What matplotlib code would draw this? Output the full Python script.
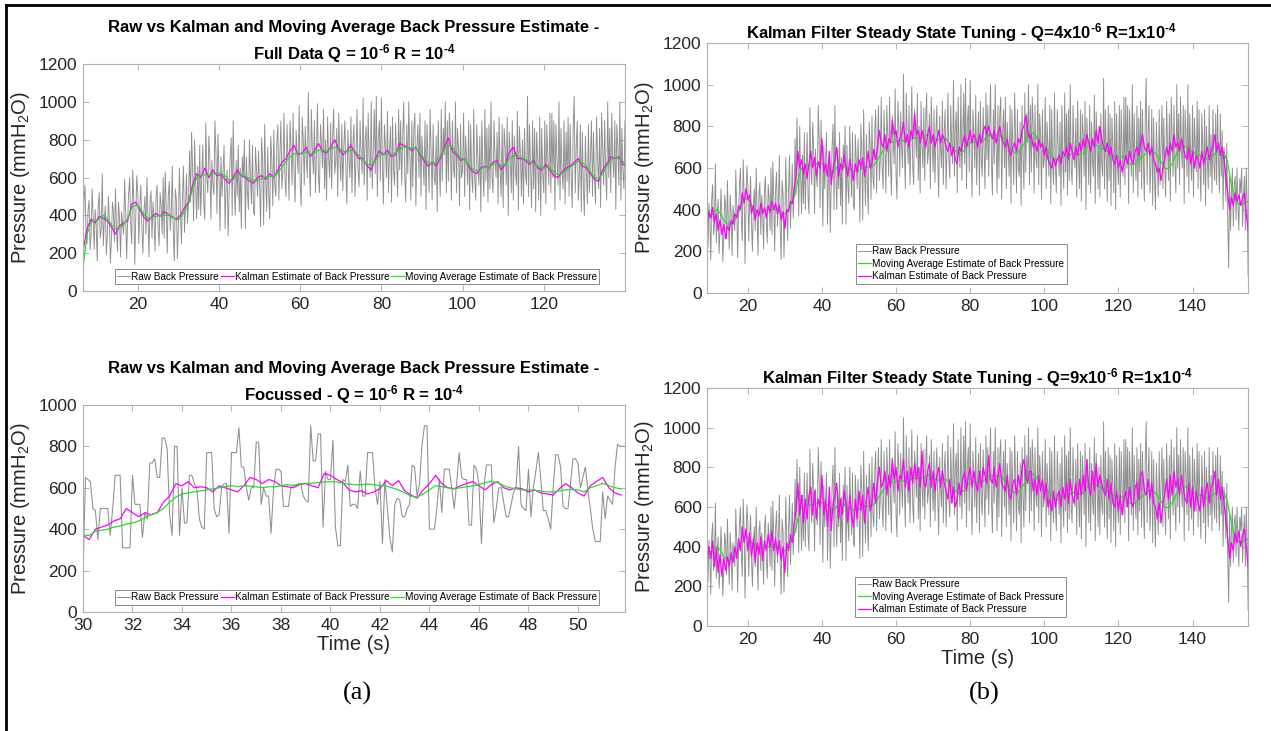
import numpy as np
import matplotlib.pyplot as plt
from matplotlib.lines import Line2D

plt.rcParams['font.family'] = ['Liberation Sans', 'DejaVu Sans']
plt.rcParams['mathtext.fontset'] = 'custom'
plt.rcParams['mathtext.rm'] = 'Liberation Sans'
plt.rcParams['mathtext.it'] = 'Liberation Sans:italic'
plt.rcParams['mathtext.bf'] = 'Liberation Sans:bold'

# ---- full record, raw back pressure, 0.25 s steps from t = 6.5 s (one row = 10 s)
raw_bp = [
    200, 480, 560, 300, 250, 430, 480, 220, 300, 540, 400, 220, 430, 350, 160, 450, 520, 280, 330, 620,
    240, 380, 450, 190, 300, 500, 380, 150, 270, 470, 420, 260, 540, 330, 210, 470, 380, 180, 420, 350,
    300, 590, 420, 170, 380, 520, 600, 360, 250, 640, 480, 140, 400, 610, 520, 250, 450, 560, 330, 200,
    420, 500, 300, 600, 380, 180, 470, 530, 280, 470, 380, 210, 500, 560, 330, 240, 520, 450, 300, 600,
    280, 630, 450, 200, 500, 580, 320, 420, 660, 300, 160, 540, 480, 170, 350, 650, 420, 250, 500, 660,
    310, 450, 620, 360, 480, 740, 470, 840, 640, 370, 800, 560, 380, 660, 430, 770, 400, 600, 770, 460,
    380, 890, 600, 520, 820, 700, 380, 690, 560, 510, 900, 730, 410, 830, 620, 320, 710, 500, 640, 770,
    330, 560, 640, 290, 520, 710, 810, 400, 900, 560, 400, 690, 500, 770, 420, 650, 330, 710, 600, 800,
    330, 710, 520, 430, 800, 600, 460, 770, 420, 400, 760, 640, 500, 740, 560, 340, 810, 690, 350, 880,
    600, 420, 760, 520, 380, 820, 700, 450, 850, 560, 500, 780, 880, 480, 720, 900, 540, 640, 940, 600,
    500, 880, 700, 480, 900, 760, 560, 940, 620, 470, 850, 720, 620, 980, 560, 450, 920, 800, 560, 870,
    700, 600, 1050, 680, 500, 960, 740, 620, 900, 520, 720, 990, 600, 520, 880, 780, 650, 960, 540, 800,
    480, 920, 700, 600, 890, 540, 820, 960, 620, 680, 860, 500, 940, 720, 580, 880, 530, 760, 900, 640,
    460, 850, 700, 600, 920, 520, 780, 880, 500, 700, 960, 640, 550, 900, 720, 620, 1020, 560, 800, 870,
    480, 940, 700, 600, 1000, 540, 760, 960, 620, 1030, 500, 820, 900, 580, 1020, 680, 460, 880, 760, 600,
    950, 520, 740, 870, 470, 920, 640, 560, 890, 700, 500, 960, 640, 900, 560, 800, 1000, 620, 470, 880,
    620, 1000, 720, 480, 900, 550, 860, 940, 450, 760, 880, 600, 940, 500, 820, 700, 560, 900, 430, 880,
    700, 520, 960, 740, 480, 880, 600, 560, 820, 420, 900, 660, 500, 960, 580, 860, 720, 1000, 520, 900,
    580, 940, 800, 480, 900, 650, 600, 1000, 520, 860, 760, 450, 880, 600, 640, 940, 500, 820, 700, 560,
    900, 430, 880, 620, 520, 960, 600, 480, 880, 700, 560, 820, 420, 900, 640, 500, 960, 580, 860, 470,
    880, 540, 1000, 600, 520, 900, 700, 600, 840, 460, 920, 640, 500, 880, 440, 860, 760, 560, 920, 400,
    840, 700, 520, 900, 480, 820, 640, 560, 950, 430, 870, 720, 500, 800, 460, 860, 620, 560, 1030, 500,
    880, 640, 440, 900, 540, 860, 420, 840, 700, 480, 920, 400, 860, 620, 520, 900, 460, 880, 700, 560,
    940, 520, 940, 600, 900, 430, 880, 700, 560, 1000, 480, 860, 640, 540, 900, 460, 840, 580, 920, 500,
    880, 620, 440, 860, 1030, 520, 760, 900, 480, 600, 880, 420, 840, 560, 400, 820, 620, 460, 880, 520,
    720, 900, 500, 840, 600, 460, 920, 700, 540, 860, 440, 940, 760, 560, 900, 620, 480, 1000, 600, 860,
    520, 940, 700, 600, 900, 430, 880, 760, 560, 1000, 480, 860, 640, 540, 900, 460, 840, 700, 580, 920,
    500, 880, 620, 440, 860, 700, 520, 880, 420, 800, 640, 500, 900, 560, 760, 480, 880, 620, 540, 860,
    520, 900, 640, 480, 860, 560, 780, 400, 700, 600, 440, 720, 350, 120, 560, 300, 480, 600, 320, 520,
    560, 350, 600, 420, 300, 550, 480, 600, 320, 460, 560, 300, 600, 420, 80,
]

# moving average and Kalman (Q=1e-6), 1 s steps from t = 6.5 s
mov_avg = [
    120, 300, 365, 370, 380, 400, 385, 350, 330, 335, 350, 385, 440, 455, 440, 405, 385, 390, 395, 400,
    400, 400, 395, 375, 385, 420, 460, 540, 600, 610, 615, 610, 620, 625, 620, 610, 585, 590, 615, 615,
    605, 595, 585, 585, 595, 605, 605, 605, 625, 655, 685, 710, 725, 725, 730, 735, 725, 730, 745, 745,
    740, 750, 760, 755, 740, 735, 745, 740, 715, 695, 670, 665, 690, 715, 725, 725, 725, 730, 750, 760,
    760, 755, 755, 730, 700, 680, 670, 685, 715, 750, 770, 760, 730, 705, 695, 670, 645, 635, 645, 655,
    655, 670, 675, 665, 670, 700, 715, 715, 705, 695, 685, 675, 660, 650, 655, 650, 630, 615, 620, 640,
    655, 670, 685, 680, 660, 630, 600, 595, 620, 660, 690, 705, 700, 685, 670, 665, 655, 645, 645, 660,
    675, 680, 675, 620, 520, 450, 425, 425, 440, 430,
]
kalman_q1 = [
    210, 330, 380, 360, 395, 385, 370, 340, 300, 345, 360, 370, 460, 470, 430, 390, 370, 395, 410, 395,
    420, 405, 390, 380, 400, 440, 470, 560, 620, 600, 650, 600, 640, 610, 615, 590, 570, 600, 640, 610,
    600, 580, 570, 600, 610, 590, 620, 600, 640, 680, 700, 740, 770, 720, 730, 760, 710, 740, 780, 740,
    730, 760, 800, 750, 720, 740, 770, 730, 700, 700, 660, 640, 700, 740, 720, 745, 710, 720, 780, 770,
    760, 740, 760, 720, 690, 660, 680, 660, 700, 760, 810, 740, 720, 690, 700, 660, 630, 620, 650, 660,
    650, 680, 690, 640, 670, 730, 760, 700, 700, 690, 670, 690, 650, 640, 670, 640, 610, 600, 630, 650,
    660, 680, 700, 660, 650, 620, 590, 580, 640, 670, 710, 700, 710, 670, 660, 670, 640, 630, 660, 700,
    690, 700, 660, 600, 500, 440, 420, 440, 450, 420,
]

# Kalman steady state tuning, 0.5 s steps from t = 6.5 s
kalman_q4 = [
    300, 380, 420, 350, 400, 330, 390, 360, 410, 340, 380, 300, 350, 280, 330, 260, 320, 300, 350, 330,
    380, 360, 420, 400, 480, 430, 500, 450, 470, 380, 420, 350, 400, 370, 430, 380, 410, 360, 420, 390,
    440, 400, 430, 380, 420, 350, 390, 310, 400, 390, 440, 430, 500, 560, 680, 600, 640, 570, 620, 550,
    620, 680, 600, 650, 560, 630, 600, 740, 580, 620, 560, 680, 520, 600, 640, 700, 560, 620, 590, 660,
    600, 560, 640, 590, 540, 620, 580, 640, 600, 650, 560, 620, 680, 600, 620, 690, 640, 700, 780, 720,
    700, 760, 680, 740, 720, 830, 760, 780, 700, 740, 760, 820, 720, 760, 700, 780, 740, 860, 760, 780,
    720, 780, 740, 700, 760, 800, 720, 760, 700, 740, 780, 720, 760, 740, 700, 680, 720, 660, 700, 640,
    620, 700, 680, 720, 760, 700, 740, 780, 720, 760, 740, 700, 760, 720, 780, 800, 760, 800, 760, 740,
    780, 720, 760, 800, 740, 720, 700, 740, 680, 660, 700, 720, 680, 740, 720, 780, 800, 850, 780, 740,
    760, 700, 720, 680, 740, 700, 720, 660, 700, 640, 620, 600, 650, 610, 640, 660, 620, 680, 660, 700,
    640, 720, 680, 640, 700, 660, 720, 680, 740, 700, 760, 720, 680, 740, 700, 780, 720, 800, 740, 700,
    680, 720, 660, 700, 640, 620, 660, 600, 640, 580, 620, 660, 620, 680, 640, 620, 680, 700, 660, 720,
    760, 700, 680, 720, 660, 700, 640, 620, 580, 600, 540, 600, 640, 700, 660, 720, 680, 760, 700, 720,
    680, 740, 700, 660, 640, 700, 620, 680, 600, 660, 640, 600, 680, 620, 660, 700, 640, 680, 700, 760,
    680, 720, 660, 700, 640, 560, 480, 400, 460, 420, 480, 440, 470, 420, 460, 480, 380, 300,
]
kalman_q9 = [
    300, 420, 440, 330, 420, 310, 400, 340, 430, 300, 390, 270, 360, 250, 340, 280, 350, 300, 370, 320,
    400, 340, 440, 380, 500, 420, 490, 380, 470, 350, 440, 320, 420, 360, 450, 330, 430, 380, 460, 400,
    480, 380, 440, 360, 430, 330, 400, 270, 420, 380, 460, 420, 520, 580, 720, 560, 660, 520, 640, 540,
    660, 700, 560, 680, 540, 640, 600, 760, 560, 640, 500, 700, 480, 620, 660, 720, 540, 640, 560, 680,
    620, 520, 660, 560, 500, 640, 540, 680, 580, 660, 520, 640, 700, 580, 620, 720, 620, 740, 800, 700,
    720, 780, 660, 760, 700, 840, 740, 800, 680, 760, 740, 840, 700, 780, 680, 800, 720, 820, 740, 800,
    700, 880, 720, 700, 780, 820, 700, 780, 680, 760, 800, 700, 780, 720, 680, 640, 740, 620, 700, 600,
    640, 720, 660, 740, 780, 680, 760, 800, 700, 780, 720, 680, 780, 700, 800, 760, 720, 860, 740, 720,
    800, 700, 760, 820, 720, 700, 680, 760, 660, 640, 720, 740, 660, 760, 700, 800, 840, 760, 720, 780,
    780, 680, 740, 660, 760, 680, 740, 640, 720, 600, 640, 580, 680, 600, 660, 680, 600, 700, 640, 720,
    620, 740, 660, 620, 720, 640, 740, 660, 760, 680, 840, 700, 660, 780, 680, 820, 700, 760, 720, 680,
    660, 740, 640, 720, 620, 600, 680, 580, 660, 560, 640, 680, 600, 700, 620, 600, 700, 720, 640, 760,
    780, 680, 660, 740, 640, 720, 620, 600, 540, 620, 520, 620, 660, 740, 640, 760, 660, 780, 700, 740,
    660, 760, 700, 640, 620, 720, 600, 700, 580, 680, 620, 580, 700, 600, 680, 720, 620, 700, 720, 780,
    660, 740, 640, 700, 620, 540, 440, 340, 420, 380, 470, 420, 480, 400, 460, 490, 400, 300,
]

# ---- focussed window 30-52 s, raw at 0.1 s steps
raw_focus = [
    180, 650, 640, 630, 500, 490, 350, 500, 500, 500,
    500, 370, 500, 660, 660, 660, 310, 310, 310, 310,
    660, 520, 520, 520, 360, 480, 450, 720, 720, 740,
    650, 650, 840, 840, 790, 470, 370, 800, 800, 370,
    600, 430, 430, 660, 660, 620, 600, 450, 410, 400,
    770, 770, 770, 500, 460, 470, 600, 620, 620, 380,
    770, 770, 770, 890, 700, 700, 600, 540, 600, 600,
    820, 820, 520, 600, 560, 560, 380, 600, 690, 690,
    680, 510, 510, 510, 600, 610, 610, 620, 620, 560,
    540, 530, 900, 730, 730, 860, 860, 410, 680, 640,
    640, 830, 410, 320, 320, 640, 630, 710, 510, 520,
    520, 500, 680, 560, 560, 770, 770, 770, 600, 520,
    630, 330, 640, 500, 360, 290, 520, 550, 540, 460,
    460, 500, 520, 710, 700, 560, 620, 810, 900, 900,
    400, 400, 400, 500, 640, 480, 690, 690, 690, 600,
    500, 620, 770, 650, 640, 640, 420, 420, 710, 690,
    620, 330, 600, 710, 710, 710, 430, 500, 600, 600,
    530, 460, 460, 520, 580, 600, 800, 520, 500, 490,
    690, 460, 600, 680, 770, 640, 490, 490, 450, 400,
    600, 760, 760, 700, 510, 500, 500, 620, 740, 740,
    720, 600, 650, 700, 590, 500, 400, 340, 340, 340,
    580, 450, 560, 540, 520, 700, 810, 800, 800, 800,
]
# Kalman and moving average in the same window, 0.25 s steps
kalman_focus = [
    370, 350, 400, 410, 420, 440, 450, 500, 480, 460, 480, 470, 480, 530, 560, 620,
    610, 630, 600, 605, 600, 580, 610, 600, 590, 580, 610, 650, 640, 620, 640, 630,
    610, 605, 600, 615, 620, 610, 600, 670, 660, 640, 625, 590, 580, 585, 570, 580,
    595, 635, 610, 635, 585, 565, 550, 590, 620, 660, 620, 600, 595, 610, 620, 630,
    610, 590, 615, 630, 600, 590, 600, 595, 580, 590, 575, 570, 565, 595, 620, 600,
    575, 560, 610, 630, 650, 600, 575, 565,
]
mov_avg_focus = [
    370, 370, 390, 395, 400, 410, 415, 425, 430, 440, 455, 470, 480, 500, 530, 555,
    570, 575, 580, 585, 590, 595, 600, 605, 610, 605, 610, 608, 605, 600, 605, 605,
    610, 615, 612, 618, 620, 622, 625, 628, 630, 628, 622, 618, 615, 615, 618, 615,
    610, 608, 600, 590, 575, 560, 555, 570, 590, 610, 605, 600, 595, 600, 605, 610,
    615, 625, 630, 625, 610, 600, 595, 590, 590, 588, 585, 580, 580, 585, 590, 592,
    590, 580, 600, 610, 622, 610, 600, 595,
]

t_raw = 6.5 + 0.25 * np.arange(len(raw_bp))
t_avg = 6.5 + 1.0 * np.arange(len(mov_avg))
t_kq1 = 6.5 + 1.0 * np.arange(len(kalman_q1))
t_k4 = 6.5 + 0.5 * np.arange(len(kalman_q4))
t_k9 = 6.5 + 0.5 * np.arange(len(kalman_q9))
t_rf = 30.0 + 0.1 * np.arange(len(raw_focus))
t_kf = 30.0 + 0.25 * np.arange(len(kalman_focus))
t_af = 30.0 + 0.25 * np.arange(len(mov_avg_focus))

GRAY = '#8e8e8e'
MAG = '#ff00ff'
GRN = '#22e022'
lbl_raw = 'Raw Back Pressure'
lbl_kal = 'Kalman Estimate of Back Pressure'
lbl_ma = 'Moving Average Estimate of Back Pressure'
SUP6 = r'$^{\mathbf{‐6}}$'
SUP4 = r'$^{\mathbf{‐4}}$'


def style(ax):
    for s in ax.spines.values():
        s.set_color('#b0b0b0')
        s.set_linewidth(0.8)
    ax.tick_params(direction='in', top=True, right=True, length=4, width=0.6,
                   color='#a8a8a8', labelcolor='#262626', labelsize=12.5, pad=4)
    ax.set_ylabel(r'Pressure (mmH$_2$O)', fontsize=14.5, color='#262626', labelpad=5)


def legend(ax, handles, ncol, anchor):
    lg = ax.legend(handles=handles, ncol=ncol, loc='lower left', bbox_to_anchor=anchor,
                   borderaxespad=0, fontsize=7.2, fancybox=False, framealpha=1,
                   edgecolor='#8a8a8a', borderpad=0.25, handlelength=1.3,
                   handletextpad=0.1, columnspacing=0.15, labelspacing=0.25)
    lg.get_frame().set_linewidth(0.7)


fig = plt.figure(figsize=(12.71, 7.31), dpi=100)

# top left: full data
ax1 = fig.add_axes([0.0653, 0.6019, 0.4264, 0.3105])
h1, = ax1.plot(t_raw, raw_bp, color=GRAY, lw=0.65, label=lbl_raw)
h2, = ax1.plot(t_kq1, kalman_q1, color=MAG, lw=0.9, label=lbl_kal)
h3, = ax1.plot(t_avg, mov_avg, color=GRN, lw=0.9, label=lbl_ma)
ax1.set_xlim(6.5, 140)
ax1.set_ylim(0, 1200)
ax1.set_xticks(np.arange(20, 121, 20))
ax1.set_yticks(np.arange(0, 1201, 200))
style(ax1)
ax1.set_title('Raw vs Kalman and Moving Average Back Pressure Estimate -\n'
              'Full Data Q = 10' + SUP6 + ' R = 10' + SUP4,
              fontsize=12, fontweight='bold', linespacing=1.45, pad=3)
legend(ax1, [h1, h2, h3], 3, (0.059, 0.03))

# bottom left: focussed window
ax2 = fig.add_axes([0.0653, 0.1628, 0.4264, 0.2832])
h1, = ax2.plot(t_rf, raw_focus, color=GRAY, lw=0.75, label=lbl_raw)
h2, = ax2.plot(t_kf, kalman_focus, color=MAG, lw=0.9, label=lbl_kal)
h3, = ax2.plot(t_af, mov_avg_focus, color=GRN, lw=0.9, label=lbl_ma)
ax2.set_xlim(30, 51.9)
ax2.set_ylim(0, 1000)
ax2.set_xticks(np.arange(30, 51, 2))
ax2.set_yticks(np.arange(0, 1001, 200))
style(ax2)
ax2.set_xlabel('Time (s)', fontsize=14.5, color='#262626', labelpad=2)
ax2.set_title('Raw vs Kalman and Moving Average Back Pressure Estimate -\n'
              'Focussed - Q = 10' + SUP6 + ' R = 10' + SUP4,
              fontsize=12, fontweight='bold', linespacing=1.45, pad=3)
legend(ax2, [h1, h2, h3], 3, (0.059, 0.035))

# top right: Q = 4e-6
ax3 = fig.add_axes([0.5563, 0.5992, 0.4257, 0.342])
h1, = ax3.plot(t_raw, raw_bp, color=GRAY, lw=0.65, label=lbl_raw)
h3, = ax3.plot(t_avg, mov_avg, color=GRN, lw=0.9, label=lbl_ma)
h2, = ax3.plot(t_k4, kalman_q4, color=MAG, lw=0.9, label=lbl_kal)
ax3.set_xlim(9, 155)
ax3.set_ylim(0, 1200)
ax3.set_xticks(np.arange(20, 141, 20))
ax3.set_yticks(np.arange(0, 1201, 200))
style(ax3)
ax3.set_title('Kalman Filter Steady State Tuning - Q=4x10' + SUP6 + ' R=1x10' + SUP4,
              fontsize=12, fontweight='bold', pad=3, x=0.47)
legend(ax3, [h1, h3, h2], 1, (0.275, 0.036))

# bottom right: Q = 9e-6
ax4 = fig.add_axes([0.5563, 0.1436, 0.4257, 0.3256])
h1, = ax4.plot(t_raw, raw_bp, color=GRAY, lw=0.65, label=lbl_raw)
h3, = ax4.plot(t_avg, mov_avg, color=GRN, lw=0.9, label=lbl_ma)
h2, = ax4.plot(t_k9, kalman_q9, color=MAG, lw=0.9, label=lbl_kal)
ax4.set_xlim(9, 155)
ax4.set_ylim(0, 1200)
ax4.set_xticks(np.arange(20, 141, 20))
ax4.set_yticks(np.arange(0, 1201, 200))
style(ax4)
ax4.set_xlabel('Time (s)', fontsize=14.5, color='#262626', labelpad=2)
ax4.set_title('Kalman Filter Steady State Tuning - Q=9x10' + SUP6 + ' R=1x10' + SUP4,
              fontsize=12, fontweight='bold', pad=3)
legend(ax4, [h1, h3, h2], 1, (0.274, 0.038))

# panel letters
fig.text(0.281, 0.043, '(a)', fontsize=19, family='Liberation Serif', ha='center')
fig.text(0.774, 0.043, '(b)', fontsize=19, family='Liberation Serif', ha='center')

# black frame on the top and left edges
fig.add_artist(Line2D([0.0047, 0.0047], [0.0, 0.9935], transform=fig.transFigure, color='k', lw=2))
fig.add_artist(Line2D([0.0047, 1.0], [0.9935, 0.9935], transform=fig.transFigure, color='k', lw=2))

fig.savefig('out.png', dpi=100)
